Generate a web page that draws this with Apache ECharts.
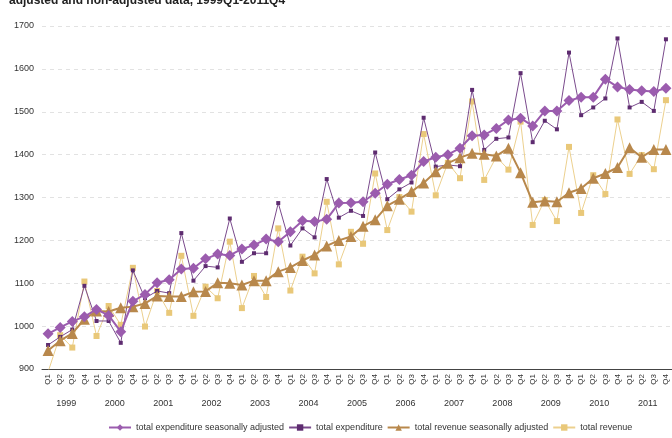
<!DOCTYPE html>
<html>
<head>
<meta charset="utf-8">
<script src="https://cdn.jsdelivr.net/npm/echarts@6/dist/echarts.min.js"></script>
<style>
	html, body { margin: 0; padding: 0; background: #fff; }
	#main { width: 672px; height: 438px; }
</style>
</head>
<body>
<div id="main"></div>
<script>
var quarters = [];
var years = ['1999', '2000', '2001', '2002', '2003', '2004', '2005', '2006', '2007', '2008', '2009', '2010', '2011'];
for (var y = 0; y < years.length; y++) {
	quarters.push('Q1', 'Q2', 'Q3', 'Q4');
}
var yTicks = [900, 1000, 1100, 1200, 1300, 1400, 1500, 1600, 1700];

// values, 1999Q1..2011Q4
var expSA = [982, 997, 1011, 1022, 1039, 1025, 987, 1058, 1074, 1101, 1108, 1133,
	1135, 1157, 1168, 1165, 1180, 1189, 1203, 1197, 1220, 1246, 1244, 1249,
	1287, 1288, 1290, 1310, 1331, 1342, 1352, 1384, 1394, 1400, 1415, 1444,
	1446, 1461, 1481, 1485, 1467, 1502, 1502, 1526, 1534, 1534, 1576, 1558,
	1552, 1549, 1547, 1555];
var exp = [956, 975, 992, 1094, 1012, 1012, 961, 1130, 1065, 1082, 1077, 1217,
	1106, 1140, 1137, 1251, 1150, 1170, 1170, 1287, 1188, 1228, 1207, 1343,
	1253, 1269, 1257, 1405, 1296, 1319, 1335, 1486, 1372, 1376, 1373, 1551,
	1411, 1437, 1440, 1590, 1429, 1479, 1459, 1638, 1492, 1510, 1531, 1671,
	1510, 1523, 1502, 1669];
var revSA = [943, 966, 983, 1016, 1035, 1034, 1043, 1045, 1053, 1070, 1069, 1069,
	1080, 1081, 1101, 1100, 1096, 1106, 1106, 1127, 1137, 1153, 1166, 1187,
	1200, 1209, 1233, 1248, 1281, 1296, 1314, 1334, 1360, 1380, 1393, 1403,
	1401, 1397, 1415, 1358, 1289, 1292, 1290, 1311, 1321, 1345, 1356, 1370,
	1416, 1394, 1412, 1412];
var rev = [893, 979, 950, 1104, 977, 1047, 1003, 1136, 999, 1082, 1031, 1164,
	1024, 1092, 1065, 1197, 1042, 1117, 1068, 1228, 1083, 1162, 1123, 1290,
	1144, 1220, 1192, 1356, 1224, 1301, 1267, 1448, 1305, 1381, 1345, 1524,
	1341, 1395, 1365, 1477, 1236, 1294, 1245, 1418, 1264, 1352, 1308, 1482,
	1355, 1399, 1366, 1527];

var names = ['total expenditure seasonally adjusted', 'total expenditure',
	'total revenue seasonally adjusted', 'total revenue'];
var font = 'Liberation Sans, Arial, sans-serif';

var chart = echarts.init(document.getElementById('main'));
var option = {
	animation: false,
	title: {
		text: 'adjusted and non-adjusted data, 1999Q1-2011Q4',
		left: 4,
		top: -10,
		textStyle: { fontFamily: font, fontSize: 12, fontWeight: 'bold', color: '#222' }
	},
	legend: {
		data: names,
		left: 103,
		bottom: 1,
		itemWidth: 22,
		itemHeight: 8,
		itemGap: 4,
		textStyle: { fontFamily: font, fontSize: 9, color: '#333' }
	},
	grid: { left: 42, right: -5, top: 26, bottom: 69 },
	xAxis: [{
		type: 'category',
		data: quarters,
		position: 'bottom',
		axisLine: { lineStyle: { color: '#444', width: 1 } },
		axisTick: { interval: 0, length: 19, lineStyle: { color: '#444' } },
		axisLabel: { interval: 0, rotate: 90, margin: 5, fontFamily: font, fontSize: 8, color: '#333' }
	}, {
		type: 'category',
		data: years,
		position: 'bottom',
		axisLine: { show: false },
		axisTick: { interval: 0, length: 43, lineStyle: { color: '#444' } },
		axisLabel: { interval: 0, margin: 30, fontFamily: font, fontSize: 9, color: '#333' }
	}],
	yAxis: {
		type: 'value',
		min: yTicks[0],
		max: yTicks[yTicks.length - 1],
		interval: 100,
		axisLine: { show: false },
		axisTick: { show: false },
		axisLabel: {
			margin: 8, fontFamily: font, fontSize: 9, color: '#333',
			formatter: function(v) { return String(v); }
		},
		splitLine: { lineStyle: { color: '#e2e2e2', type: [4, 4] } }
	},
	series: [{
		name: names[3],
		type: 'line',
		data: rev,
		z: 2,
		symbol: 'rect',
		symbolSize: 6,
		color: '#e9c879',
		lineStyle: { width: 1, color: '#ecd08e' }
	}, {
		name: names[1],
		type: 'line',
		data: exp,
		z: 3,
		symbol: 'rect',
		symbolSize: 4,
		color: '#5e2c70',
		lineStyle: { width: 1, color: '#7a4a8c' }
	}, {
		name: names[2],
		type: 'line',
		data: revSA,
		z: 4,
		symbol: 'triangle',
		symbolSize: 11,
		color: '#b8884c',
		lineStyle: { width: 2, color: '#b8884c' }
	}, {
		name: names[0],
		type: 'line',
		data: expSA,
		z: 5,
		symbol: 'diamond',
		symbolSize: 11,
		color: '#9b5cae',
		lineStyle: { width: 2, color: '#9b5cae' }
	}]
};
chart.setOption(option);
</script>
</body>
</html>
